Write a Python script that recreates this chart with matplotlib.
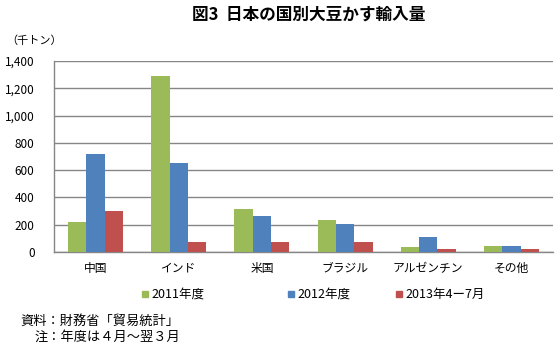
import numpy as np
import matplotlib
matplotlib.use('Agg')
import matplotlib.pyplot as plt

plt.rcParams['font.family'] = ['Noto Sans CJK JP', 'DejaVu Sans']

countries = ['中国', 'インド', '米国', 'ブラジル', 'アルゼンチン', 'その他']
series_names = ['2011年度', '2012年度', '2013年4ー7月']
fy2011 = [220, 1287, 315, 234, 37, 44]
fy2012 = [716, 650, 263, 203, 109, 44]
y2013 = [301, 73, 74, 73, 24, 24]
y_ticks = [0, 200, 400, 600, 800, 1000, 1200, 1400]
colors = ['#9BBB59', '#4F81BD', '#C0504D']

fig = plt.figure(figsize=(5.6, 3.48), dpi=100)
ax = fig.add_axes([54 / 560, 1 - 252 / 348, 499 / 560, 191 / 348])

x = np.arange(len(countries))
width = 0.22
for i, vals in enumerate([fy2011, fy2012, y2013]):
    ax.bar(x + (i - 1) * width, vals, width, color=colors[i], zorder=3)

ax.set_xlim(-0.5, len(countries) - 0.5)
ax.set_ylim(0, 1400)
ax.set_yticks(y_ticks)
ax.set_yticklabels(['{:,}'.format(v) for v in y_ticks], fontsize=8.5)
ax.set_xticks(x)
ax.set_xticklabels(countries, fontsize=8.5)
ax.tick_params(axis='y', length=0, pad=14)
ax.tick_params(axis='x', length=0, pad=7)
ax.grid(axis='y', color='#868686', linewidth=1, zorder=0)
for side in ['top', 'right']:
    ax.spines[side].set_visible(False)
for side in ['left', 'bottom']:
    ax.spines[side].set_color('#868686')
    ax.spines[side].set_linewidth(1)

fig.text(309 / 560, 1 - 15 / 348, '図3  日本の国別大豆かす輸入量', ha='center', va='center',
         fontsize=12, fontweight='bold')
fig.text(6 / 560, 1 - 41 / 348, '（千トン）', ha='left', va='center', fontsize=8)

# legend drawn as separate entries to match spacing
leg_x = [142, 288, 396]
for i, name in enumerate(series_names):
    fig.patches.append(plt.Rectangle((leg_x[i] / 560, 1 - 297 / 348), 6 / 560, 6 / 348,
                                     transform=fig.transFigure, color=colors[i]))
    fig.text((leg_x[i] + 9) / 560, 1 - 294 / 348, name, ha='left', va='center', fontsize=9)

fig.text(20 / 560, 1 - 321 / 348, '資料：財務省「貿易統計」', ha='left', va='center', fontsize=9.5)
fig.text(35 / 560, 1 - 337 / 348, '注：年度は４月～翌３月', ha='left', va='center', fontsize=9.5)

fig.savefig('out.png', dpi=100)
